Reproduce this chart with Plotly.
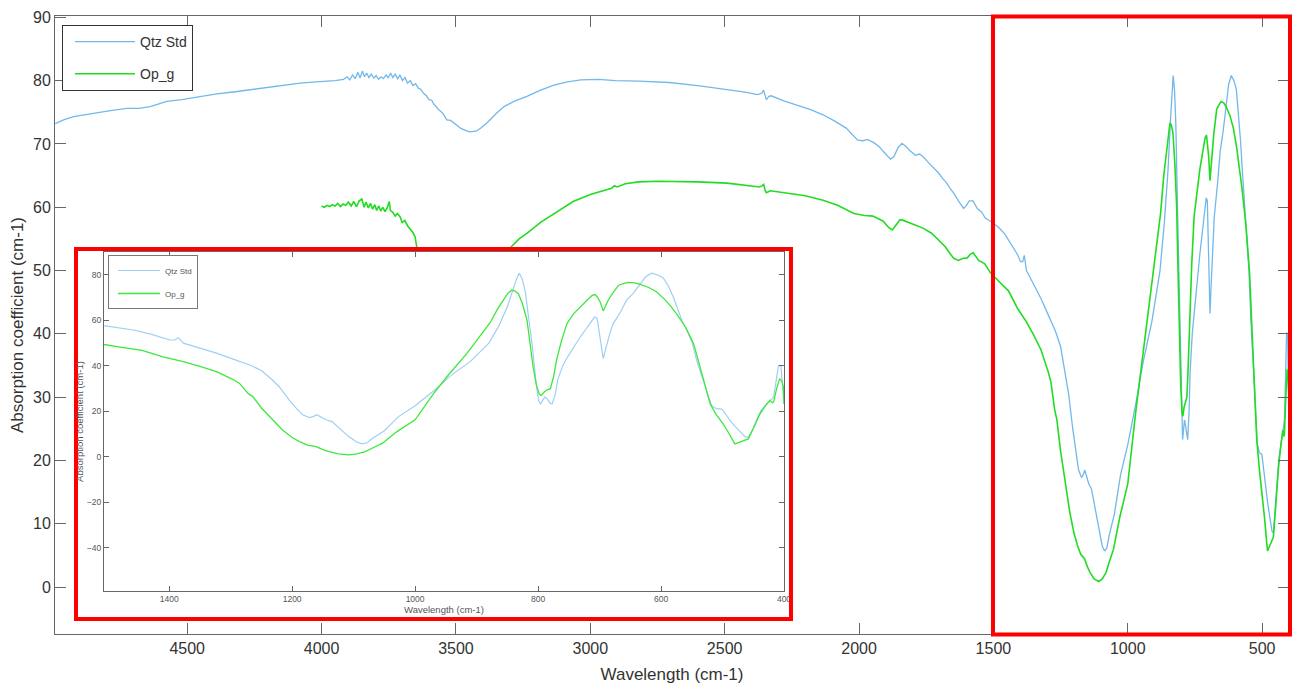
import plotly.graph_objects as go

# ---------------- data ----------------
qtz_wn = [4991, 4960, 4923, 4880, 4824, 4780, 4724, 4680, 4638, 4576, 4520, 4452, 4390, 4328, 4260,
          4203, 4140, 4080, 4020, 3980, 3950, 3918, 3905, 3895, 3885, 3875, 3865, 3857, 3848, 3840,
          3832, 3824, 3815, 3806, 3797, 3788, 3779, 3770, 3760, 3752, 3743, 3735, 3726, 3717, 3708,
          3699, 3690, 3680, 3670, 3660, 3650, 3640, 3630, 3621, 3610, 3600, 3590, 3584, 3564, 3550,
          3534, 3520, 3507, 3480, 3450, 3425, 3407, 3380, 3350, 3321, 3280, 3236, 3185, 3135, 3085,
          3035, 2970, 2906, 2820, 2706, 2600, 2491, 2430, 2377, 2362, 2355, 2349, 2345, 2335, 2327,
          2280, 2219, 2180, 2134, 2090, 2048, 2025, 2005, 1985, 1969, 1945, 1926, 1905, 1890, 1883,
          1870, 1855, 1840, 1825, 1810, 1800, 1790, 1775, 1762, 1745, 1725, 1704, 1690, 1675, 1660,
          1647, 1630, 1620, 1611, 1600, 1590, 1576, 1560, 1545, 1530, 1504, 1480, 1458, 1430, 1410,
          1399, 1391, 1385, 1381, 1377, 1350, 1323, 1296, 1269, 1250, 1232, 1220, 1205, 1192, 1183,
          1172, 1165, 1160, 1152, 1145, 1135, 1120, 1108, 1095, 1086, 1078, 1069, 1050, 1027, 1000,
          970, 943, 910, 880, 864, 850, 842, 836, 831, 826, 821, 815, 809, 803, 799,
          796, 792, 789, 785, 780, 777, 772, 768, 760, 753, 741, 732, 716, 708, 704,
          700, 697, 694, 690, 686, 683, 678, 666, 656, 645, 634, 625, 615, 605, 596,
          588, 580, 574, 566, 558, 549, 542, 531, 525, 518, 510, 501, 494, 488, 480,
          472, 463, 458, 450, 445, 438, 428, 420, 417, 413, 409, 405, 402, 400]
qtz_abs = [73.2, 73.8, 74.3, 74.6, 75.1, 75.3, 75.6, 75.6, 75.9, 76.7, 77.0, 77.5, 77.9, 78.2, 78.6,
           78.9, 79.3, 79.6, 79.8, 79.9, 80.0, 80.2, 80.6, 80.1, 80.9, 80.3, 81.3, 80.4, 81.5, 80.6,
           81.2, 80.5, 81.0, 80.4, 80.8, 80.2, 80.6, 80.3, 80.9, 80.4, 81.2, 80.5, 81.0, 80.3, 80.9,
           80.0, 80.5, 79.6, 80.0, 79.2, 79.5, 78.8, 78.6, 78.0, 77.6, 77.0, 76.9, 76.4, 75.4, 74.9,
           73.8, 73.7, 73.3, 72.4, 71.9, 72.0, 72.5, 73.5, 74.8, 75.9, 76.8, 77.5, 78.5, 79.3, 79.8,
           80.1, 80.2, 80.0, 79.9, 79.7, 79.2, 78.6, 78.2, 77.8, 78.0, 78.5, 77.3, 77.0, 77.5, 77.6,
           76.8, 76.0, 75.4, 74.6, 73.6, 72.5, 71.5, 70.6, 70.5, 70.7, 70.2, 69.6, 68.6, 67.8, 67.6,
           68.0, 69.4, 70.1, 69.6, 68.9, 68.5, 68.2, 68.4, 68.0, 67.2, 66.3, 65.4, 64.6, 63.9, 62.9,
           62.2, 61.0, 60.4, 59.8, 60.3, 61.0, 61.0, 59.8, 59.3, 58.3, 57.6, 56.8, 55.8, 54.0, 52.5,
           51.4, 51.4, 52.4, 51.2, 50.0, 47.8, 45.6, 43.0, 40.4, 38.0, 33.8, 30.5, 25.1, 21.0, 18.5,
           17.3, 17.8, 18.5, 17.5, 16.3, 15.5, 12.0, 8.9, 6.5, 5.7, 6.2, 8.2, 11.5, 17.7, 22.5,
           29.0, 35.5, 42.0, 50.0, 57.5, 66.0, 73.0, 77.5, 80.8, 78.5, 73.0, 60.0, 48.0, 32.0, 24.5,
           23.3, 25.0, 26.4, 25.5, 23.5, 23.3, 27.5, 34.0, 40.0, 43.5, 48.5, 52.5, 58.5, 61.5, 61.0,
           54.0, 47.0, 43.2, 47.5, 52.0, 54.5, 58.5, 63.7, 68.9, 72.0, 76.0, 79.3, 80.8, 80.0, 78.6,
           75.0, 70.3, 66.0, 60.0, 55.7, 49.9, 42.4, 33.6, 28.5, 22.6, 21.2, 21.0, 18.5, 16.0, 13.5,
           11.2, 8.8, 8.6, 12.5, 16.0, 20.2, 23.3, 25.5, 26.3, 33.0, 40.2, 40.0, 30.0, 23.3]

opg_wn = [4000, 3990, 3980, 3970, 3960, 3950, 3940, 3930, 3920, 3910, 3900, 3890, 3880, 3870, 3860,
          3850, 3842, 3835, 3826, 3818, 3810, 3802, 3795, 3787, 3780, 3772, 3764, 3756, 3748, 3744,
          3735, 3726, 3718, 3708, 3700, 3690, 3679, 3668, 3660, 3652, 3645, 3620, 3580, 3530, 3480,
          3440, 3400, 3350, 3310, 3293, 3265, 3235, 3185, 3135, 3100, 3064, 3000, 2949, 2921, 2910,
          2900, 2870, 2820, 2750, 2677, 2600, 2491, 2420, 2370, 2360, 2355, 2349, 2345, 2330, 2277,
          2200, 2134, 2080, 2019, 1980, 1948, 1910, 1890, 1876, 1860, 1848, 1840, 1800, 1762, 1730,
          1704, 1680, 1660, 1647, 1630, 1615, 1597, 1585, 1575, 1568, 1555, 1533, 1510, 1480, 1444,
          1410, 1377, 1350, 1323, 1296, 1286, 1272, 1264, 1250, 1242, 1228, 1216, 1200, 1188, 1175,
          1161, 1150, 1140, 1125, 1108, 1095, 1081, 1070, 1053, 1030, 1000, 970, 946, 916, 889,
          878, 866, 856, 849, 843, 838, 832, 825, 818, 813, 808, 803, 798, 795, 790,
          785, 780, 775, 770, 762, 753, 742, 732, 720, 712, 707, 703, 699, 694, 690,
          686, 680, 669, 660, 653, 643, 634, 620, 607, 595, 585, 575, 560, 547, 535,
          527, 520, 510, 499, 490, 484, 480, 472, 465, 458, 450, 439, 430, 423, 419,
          417, 412, 407, 403, 401, 400]
opg_abs = [60.2, 60.0, 60.3, 60.1, 60.4, 60.2, 60.6, 60.1, 60.5, 60.3, 60.8, 60.2, 60.9, 60.1, 61.0,
           61.3, 60.0, 60.8, 59.9, 60.6, 59.7, 60.4, 59.5, 60.2, 59.4, 60.0, 59.3, 59.9, 60.9, 59.5,
           59.2, 58.6, 59.0, 58.5, 57.6, 57.9, 57.0, 56.4, 56.0, 55.3, 53.5, 51.0, 48.5, 46.5, 45.5,
           45.5, 47.0, 50.0, 52.8, 53.8, 55.0, 55.9, 57.6, 59.0, 60.0, 60.9, 62.0, 62.7, 63.0, 63.4,
           63.2, 63.7, 64.0, 64.1, 64.1, 64.0, 63.8, 63.5, 63.2, 63.4, 63.6, 62.6, 62.3, 62.6, 62.3,
           61.8, 61.1, 60.3, 59.0, 58.7, 58.6, 57.8, 56.8, 56.4, 57.3, 58.0, 58.0, 57.3, 56.7, 55.9,
           54.8, 53.8, 52.6, 51.9, 51.6, 51.9, 52.0, 52.6, 52.8, 52.4, 51.6, 51.1, 49.6, 48.3, 46.8,
           44.0, 41.9, 39.8, 37.5, 34.0, 32.4, 28.0, 26.5, 21.5, 19.2, 15.0, 11.9, 8.5, 6.7, 5.2,
           4.5, 3.2, 2.3, 1.3, 0.9, 1.3, 2.3, 3.8, 6.0, 11.0, 16.3, 27.8, 36.0, 45.4, 55.0,
           59.0, 65.0, 68.9, 72.0, 73.3, 73.0, 71.8, 67.0, 60.1, 50.0, 39.5, 32.0, 27.5, 27.0, 28.5,
           29.5, 30.0, 35.0, 42.4, 51.0, 58.6, 63.0, 65.9, 69.0, 71.0, 71.4, 70.0, 68.1, 64.2, 66.5,
           68.9, 71.5, 75.5, 76.3, 76.7, 76.5, 75.9, 74.5, 72.5, 69.5, 66.5, 63.0, 57.0, 49.8, 38.0,
           30.0, 23.3, 18.5, 14.5, 10.5, 7.5, 5.7, 6.5, 7.2, 7.9, 12.5, 18.9, 22.5, 24.8, 23.8,
           24.1, 30.0, 34.4, 33.0, 30.7, 23.3]

series_names = ["Qtz Std", "Op_g"]
main_xticks = [4500, 4000, 3500, 3000, 2500, 2000, 1500, 1000, 500]
main_yticks = [0, 10, 20, 30, 40, 50, 60, 70, 80, 90]
inset_xticks = [1400, 1200, 1000, 800, 600, 400]
inset_yticks = [-40, -20, 0, 20, 40, 60, 80]

# ---------------- style ----------------
W, H = 1301, 684
FONT = "Arial, Liberation Sans, Helvetica, sans-serif"
BLUE, GREEN = "#72B8EB", "#22DC22"
BLUE_IN, GREEN_IN = "#9FCFF3", "#3DE83D"
AXC = "#666666"


def fx(p):
    return p / W


def fy(p):
    return 1 - p / H


fig = go.Figure()
fig.add_trace(go.Scatter(x=qtz_wn, y=qtz_abs, mode="lines", name=series_names[0],
                         line=dict(color=BLUE, width=1.3), xaxis="x", yaxis="y",
                         legend="legend", legendgroup="a"))
fig.add_trace(go.Scatter(x=opg_wn, y=opg_abs, mode="lines", name=series_names[1],
                         line=dict(color=GREEN, width=1.6), xaxis="x", yaxis="y",
                         legend="legend", legendgroup="b"))
# blank cover panel that hides the main curves behind the inset frame
fig.add_trace(go.Scatter(x=[None], y=[None], mode="lines", showlegend=False, hoverinfo="skip",
                         xaxis="x2", yaxis="y2"))
# inset (zoom of 1500-400 cm-1)
fig.add_trace(go.Scatter(x=qtz_wn, y=qtz_abs, mode="lines", name=series_names[0],
                         line=dict(color=BLUE_IN, width=1.2), xaxis="x3", yaxis="y3",
                         legend="legend2", legendgroup="c"))
fig.add_trace(go.Scatter(x=opg_wn, y=opg_abs, mode="lines", name=series_names[1],
                         line=dict(color=GREEN_IN, width=1.3), xaxis="x3", yaxis="y3",
                         legend="legend2", legendgroup="d"))

common = dict(showgrid=False, zeroline=False, showline=True, linecolor=AXC, linewidth=1,
              ticks="inside", tickcolor=AXC, tickwidth=1, mirror="ticks", automargin=False)

fig.update_layout(
    template="none",
    width=W, height=H, autosize=False,
    margin=dict(l=0, r=0, t=0, b=0, pad=0, autoexpand=False),
    paper_bgcolor="white", plot_bgcolor="white",
    font=dict(family=FONT, color="#333333"),
    xaxis=dict(domain=[fx(55), fx(1289)], range=[4992, 400], anchor="y",
               tickvals=main_xticks, ticklen=11, tickfont=dict(size=16, color="#333333"),
               title=dict(text="Wavelength (cm-1)", font=dict(size=17, color="#333333"), standoff=11),
               **common),
    yaxis=dict(domain=[fy(634), fy(16)], range=[-7.4, 90.2], anchor="x",
               tickvals=main_yticks, ticklen=11, tickfont=dict(size=16, color="#333333"),
               title=dict(text="Absorption coefficient (cm-1)", font=dict(size=17, color="#333333"),
                          standoff=5),
               **common),
    xaxis2=dict(domain=[fx(76), fx(791)], range=[0, 1], anchor="y2", visible=False),
    yaxis2=dict(domain=[fy(619), fy(249)], range=[0, 1], anchor="x2", visible=False),
    xaxis3=dict(domain=[fx(104), fx(784)], range=[1506, 400], anchor="y3",
                tickvals=inset_xticks, ticklen=5, tickfont=dict(size=8.5, color="#555555"),
                title=dict(text="Wavelength (cm-1)", font=dict(size=9.5, color="#555555"), standoff=2),
                **common),
    yaxis3=dict(domain=[fy(591), fy(252)], range=[-59, 90.1], anchor="x3",
                tickvals=inset_yticks, ticklen=5, tickfont=dict(size=8.5, color="#555555"),
                title=dict(text="Absorption coefficient (cm-1)", font=dict(size=9.5, color="#555555"),
                           standoff=1),
                **common),
    legend=dict(x=fx(62), y=fy(25), xanchor="left", yanchor="top",
                bgcolor="white", bordercolor="#333333", borderwidth=1, indentation=7,
                font=dict(size=14, color="#333333"), tracegroupgap=11, itemwidth=60),
    legend2=dict(x=fx(108), y=fy(255), xanchor="left", yanchor="top",
                 bgcolor="white", bordercolor="#777777", borderwidth=1, indentation=4,
                 font=dict(size=8, color="#555555"), tracegroupgap=4, itemwidth=42),
    showlegend=True,
)

red = dict(color="#FF0000", width=4)
fig.add_shape(type="rect", xref="paper", yref="paper", x0=fx(76), x1=fx(791), y0=fy(619), y1=fy(249),
              line=red, fillcolor="rgba(0,0,0,0)", layer="above")
fig.add_shape(type="rect", xref="paper", yref="paper", x0=fx(993), x1=fx(1290), y0=fy(634.5), y1=fy(16.5),
              line=red, fillcolor="rgba(0,0,0,0)", layer="above")

fig.write_html("out.html")
